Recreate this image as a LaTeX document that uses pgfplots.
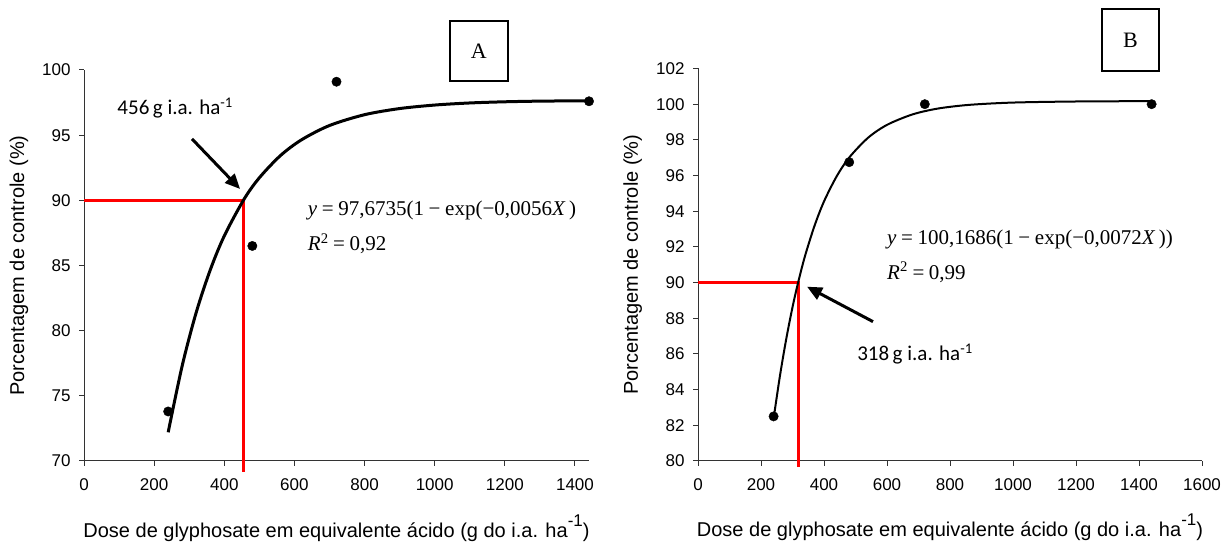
\documentclass[border=0pt]{standalone}
\usepackage{fontspec}
\setmainfont{Liberation Sans}
\newfontfamily\eqfont{Liberation Serif}
\newfontfamily\calfont{Carlito}
\usepackage{pgfplots}
\pgfplotsset{compat=1.18}
\usetikzlibrary{arrows.meta}

\newcommand{\lblfont}{\fontsize{20bp}{24bp}\selectfont}
\newcommand{\eqsize}{\fontsize{21bp}{24bp}\selectfont}
\newcommand{\eqsp}{\hspace{0.22em}}

\pgfplotsset{
  panel/.style={
    scale only axis, anchor=south west,
    axis x line*=bottom, axis y line*=left,
    tick align=outside, major tick length=5bp,
    axis line style={black!80, line width=1bp},
    every tick/.style={black!80, line width=1bp},
    /pgf/number format/assume math mode=true,
    /pgf/number format/1000 sep={},
    ticklabel style={font=\fontsize{17bp}{20bp}\selectfont},
    xticklabel style={yshift=-9bp},
    yticklabel style={xshift=-5bp},
    label style={font=\lblfont},
    clip=false,
  }
}

\begin{document}
\begin{tikzpicture}[x=1bp,y=1bp]
\useasboundingbox (0,0) rectangle (1222,543);

% panel A
\begin{axis}[panel, at={(84bp,82bp)}, width=505bp, height=391bp,
  xmin=0, xmax=1440, ymin=70, ymax=100,
  xtick={0,200,...,1400}, ytick={70,75,...,100},
  xlabel={Dose de glyphosate em equivalente ácido (g do i.a. ha\raisebox{0.55em}{\fontsize{17bp}{17bp}\selectfont -1})},
  ylabel={Porcentagem de controle (\%)},
  xlabel style={at={(axis description cs:0.5,-0.1944)}, anchor=base},
  ylabel style={at={(axis description cs:-0.1287,0.5)}, anchor=center}]
\addplot[red, line width=3bp, line join=miter] coordinates {(0,90) (456,90) (456,69.18)};
\addplot[black, line width=3bp, smooth] coordinates {
(240,72.20) (280,77.31) (320,81.40) (360,84.66) (400,87.27) (456,90.07)
(500,91.73) (560,93.43) (620,94.64) (700,95.74) (800,96.57) (900,97.04)
(1000,97.31) (1100,97.47) (1200,97.56) (1300,97.61) (1440,97.64)};
\addplot[only marks, mark=*, mark size=4.7bp, black] coordinates {
(240,73.8) (480,86.5) (720,99.1) (1440,97.6)};
\draw[-{Triangle[length=15bp,width=13bp]}, line width=3bp]
  (axis cs:308,94.71) -- (axis cs:445,90.87);
\node[anchor=base, font=\calfont\fontsize{21bp}{24bp}\selectfont] at (axis cs:260,96.55)
  {456\,g i.a. ha\textsuperscript{-1}};
\node[anchor=base west, font=\eqfont\eqsize, inner sep=0pt] at (axis cs:638,88.8)
  {\textit{y}\eqsp=\eqsp97,6735(1\eqsp−\eqsp exp(−0,0056\textit{X}\,)};
\node[anchor=base west, font=\eqfont\eqsize, inner sep=0pt] at (axis cs:638,86.14)
  {\textit{R}\textsuperscript{2}\eqsp=\eqsp0,92};
\node[draw, line width=1.5bp, minimum width=58bp, minimum height=60bp,
  font=\eqfont\fontsize{22bp}{24bp}\selectfont] at (axis cs:1126,101.46) {A};
\end{axis}

% panel B
\begin{axis}[panel, at={(698bp,82bp)}, width=504bp, height=392.5bp,
  xmin=0, xmax=1600, ymin=80, ymax=102,
  xtick={0,200,...,1600}, ytick={80,82,...,102},
  xlabel={Dose de glyphosate em equivalente ácido (g do i.a. ha\raisebox{0.55em}{\fontsize{17bp}{17bp}\selectfont -1})},
  ylabel={Porcentagem de controle (\%)},
  xlabel style={at={(axis description cs:0.5,-0.1936)}, anchor=base},
  ylabel style={at={(axis description cs:-0.1298,0.5)}, anchor=center}]
\addplot[red, line width=3bp, line join=miter] coordinates {(0,90) (318,90) (318,79.66)};
\addplot[black, line width=2bp, smooth] coordinates {
(240,82.38) (260,84.76) (280,86.83) (300,88.62) (318,90.02) (340,91.51)
(370,93.19) (400,94.55) (440,95.95) (480,97.01) (540,98.12) (600,98.84)
(680,99.42) (760,99.75) (860,99.96) (1000,100.09) (1200,100.15) (1440,100.17)};
\addplot[only marks, mark=*, mark size=4.7bp, black] coordinates {
(240,82.5) (480,96.75) (720,100) (1440,100)};
\draw[-{Triangle[length=15bp,width=13bp]}, line width=3bp]
  (axis cs:555.6,87.81) -- (axis cs:346,89.77);
\node[anchor=base west, inner sep=0pt, font=\calfont\fontsize{21bp}{24bp}\selectfont] at (axis cs:505,85.62)
  {318\,g i.a. ha\textsuperscript{-1}};
\node[anchor=base west, font=\eqfont\eqsize, inner sep=0pt] at (axis cs:600,92.11)
  {\textit{y}\eqsp=\eqsp100,1686(1\eqsp−\eqsp exp(−0,0072\textit{X}\,))};
\node[anchor=base west, font=\eqfont\eqsize, inner sep=0pt] at (axis cs:600,90.18)
  {\textit{R}\textsuperscript{2}\eqsp=\eqsp0,99};
\node[draw, line width=1.5bp, minimum width=57bp, minimum height=62bp,
  font=\eqfont\fontsize{22bp}{24bp}\selectfont] at (axis cs:1373,103.6) {B};
\end{axis}
\end{tikzpicture}
\end{document}
